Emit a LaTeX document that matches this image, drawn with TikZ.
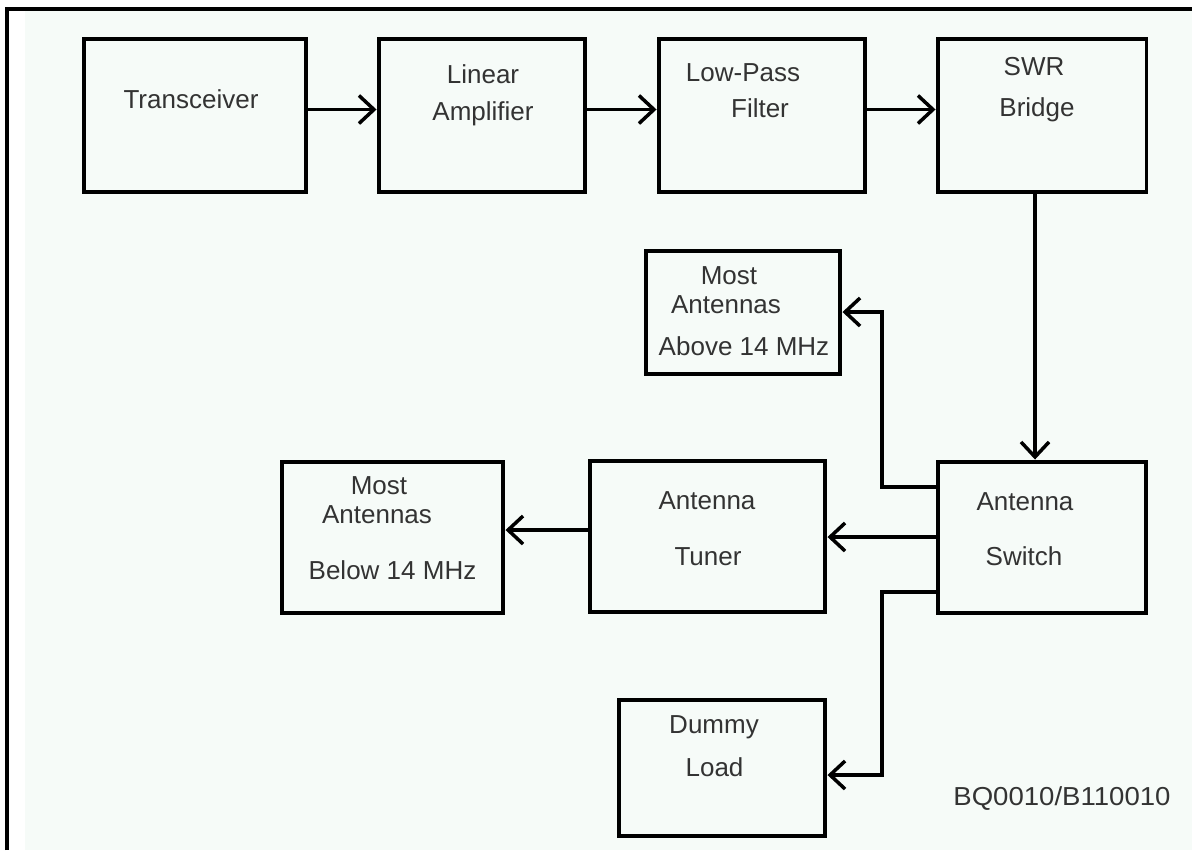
\documentclass[tikz,border=0pt]{standalone}
\usepackage{fontspec}
\setmainfont{Liberation Sans}
\usetikzlibrary{arrows.meta}
\definecolor{paper}{RGB}{246,251,248}
\tikzset{
  blk/.style={draw, line width=0.08cm, minimum height=3.06cm, inner sep=0pt},
  lbl/.style={anchor=base, text=black!80, inner sep=0pt},
  link/.style={line width=0.07cm, -{Straight Barb[length=0.3cm,width=0.56cm]}},
}
\begin{document}
\begin{tikzpicture}[x=0.02cm, y=-0.02cm, font=\fontsize{14.8}{17}\selectfont]
  \useasboundingbox (0,0) rectangle (1192,850);
  \fill[paper] (25,10) rectangle (1192,850);
  \draw[line width=0.07cm] (7,850) -- (7,9) -- (1192,9);
  \node[blk, minimum width=4.46cm] (trx) at (195,115.5) {};
  \node[blk, minimum width=4.14cm] (amp) at (482,115.5) {};
  \node[blk, minimum width=4.14cm] (lpf) at (762,115.5) {};
  \node[blk, minimum width=4.18cm] (swr) at (1042,115.5) {};
  \node[blk, minimum width=3.9cm, minimum height=2.46cm] (above) at (743,312) {};
  \node[blk, minimum width=4.16cm, minimum height=3.02cm] (sw) at (1042,537) {};
  \node[blk, minimum width=4.72cm, minimum height=3.02cm] (tuner) at (707.5,536) {};
  \node[blk, minimum width=4.44cm, minimum height=3.02cm] (below) at (392.5,537) {};
  \node[blk, minimum width=4.14cm, minimum height=2.72cm] (dummy) at (722,767.5) {};
  \node[lbl] (trx-a) at (191,108) {Transceiver};
  \node[lbl] (amp-a) at (483,83) {Linear};
  \node[lbl] (amp-b) at (483,120) {Amplifier};
  \node[lbl] (lpf-a) at (743,81) {Low-Pass};
  \node[lbl] (lpf-b) at (760,117) {Filter};
  \node[lbl] (swr-a) at (1034,75) {SWR};
  \node[lbl] (swr-b) at (1037,116) {Bridge};
  \node[lbl] (above-a) at (729,284) {Most};
  \node[lbl] (above-b) at (726,313) {Antennas};
  \node[lbl] (above-c) at (744,355) {Above 14 MHz};
  \node[lbl] (below-a) at (379,494) {Most};
  \node[lbl] (below-b) at (377,523) {Antennas};
  \node[lbl] (below-c) at (392.5,579) {Below 14 MHz};
  \node[lbl] (tuner-a) at (707,509) {Antenna};
  \node[lbl] (tuner-b) at (708,565) {Tuner};
  \node[lbl] (sw-a) at (1025,510) {Antenna};
  \node[lbl] (sw-b) at (1024,565) {Switch};
  \node[lbl] (dummy-a) at (714,733) {Dummy};
  \node[lbl] (dummy-b) at (714.5,776) {Load};
  \node[lbl, anchor=base west, xscale=1.06] (code) at (953,805) {BQ0010/B110010};
  \draw[link] ([yshift=0.12cm]trx.east) -- ([yshift=0.12cm]amp.west);
  \draw[link] ([yshift=0.12cm]amp.east) -- ([yshift=0.12cm]lpf.west);
  \draw[link] ([yshift=0.12cm]lpf.east) -- ([yshift=0.12cm]swr.west);
  \draw[link] ([xshift=-0.14cm]swr.south) -- ([xshift=-0.14cm]sw.north);
  \draw[link] (sw.west) -- (sw.west -| tuner.east);
  \draw[link] ([yshift=0.12cm]tuner.west) -- ([yshift=0.12cm]tuner.west -| below.east);
  \coordinate (upj) at (882,487);
  \coordinate (dnj) at (882,592);
  \draw[link] (upj -| sw.west) -- (upj) |- (above.east);
  \draw[link] (dnj -| sw.west) -- (dnj) |- ([yshift=-0.15cm]dummy.east);
\end{tikzpicture}
\end{document}
